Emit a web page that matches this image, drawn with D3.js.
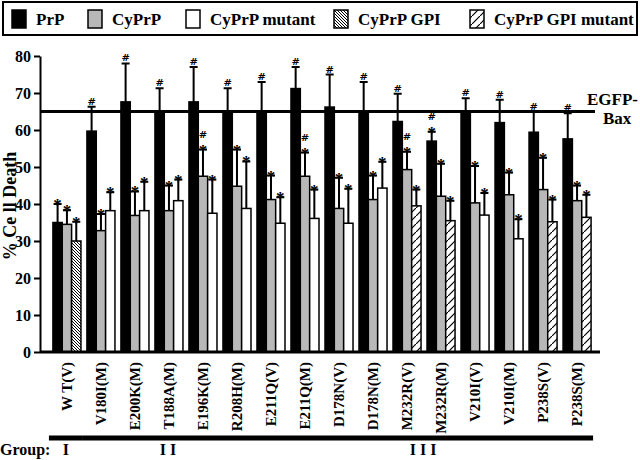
<!DOCTYPE html>
<html>
<head>
<meta charset="utf-8">
<script src="https://cdn.jsdelivr.net/npm/d3@7"></script>
<style>
  body { margin: 0; background: #fff; }
  text { font-family: "Liberation Serif", "Times New Roman", serif; font-weight: bold; fill: #000; }
</style>
</head>
<body>
<script>
// values
var categories = ["W T(V)", "V180I(M)", "E200K(M)", "T188A(M)", "E196K(M)", "R208H(M)",
  "E211Q(V)", "E211Q(M)", "D178N(V)", "D178N(M)", "M232R(V)", "M232R(M)",
  "V210I(V)", "V210I(M)", "P238S(V)", "P238S(M)"];
var prp      = [35, 59.7, 67.6, 65.2, 67.6, 64.6, 64.6, 71.2, 66.2, 64.6, 62.3, 57, 64.8, 62, 59.4, 57.6];
var prpErr   = [5, 6.6, 10.4, 6.1, 9.4, 6.7, 8.4, 5.8, 8.8, 8.4, 7.5, 2.5, 3.8, 6.2, 5.6, 6.9];
var cyprp    = [34.5, 32.8, 36.9, 38.2, 47.5, 44.8, 41.2, 47.5, 38.8, 41.2, 49.3, 42.1, 40.3, 42.5, 43.9, 40.9];
var cyprpErr = [3.8, 4.5, 6.5, 6.8, 7.2, 9.9, 6.5, 6.4, 8.3, 6.5, 4.8, 8.8, 10, 6, 8.6, 4.1];
var third    = [30, 38.2, 38.2, 40.9, 37.5, 38.8, 34.8, 36.1, 34.8, 44.3, 39.5, 35.5, 37, 30.6, 35.2, 36.4];
var thirdErr = [5.2, 5, 7.8, 5.7, 9.1, 12.7, 7, 7.8, 9.3, 7.1, 4.4, 5.4, 6, 5.3, 6, 6.1];
var thirdType = ["gpi", "mut", "mut", "mut", "mut", "mut", "mut", "mut", "mut", "mut",
  "gpimut", "gpimut", "mut", "mut", "gpimut", "gpimut"];
var prpMark   = ["*", "#", "#", "#", "#", "#", "#", "#", "#", "#", "#", "#*", "#", "#", "#", "#"];
var cyprpMark = ["*", "*", "*", "*", "#*", "*", "*", "#*", "*", "*", "#*", "*", "*", "*", "*", "*"];
var thirdMark = ["*", "*", "*", "*", "*", "*", "*", "*", "*", "*", "*", "*", "*", "*", "*", "*"];
var yTicks = [0, 10, 20, 30, 40, 50, 60, 70, 80];
var refValue = 65;
var groups = [
  { name: "I", from: "W T(V)", to: "W T(V)" },
  { name: "I I", from: "V180I(M)", to: "R208H(M)" },
  { name: "I I I", from: "E211Q(V)", to: "P238S(M)" }
];
var legendItems = [
  { key: "prp", label: "PrP" },
  { key: "cy", label: "CyPrP" },
  { key: "mut", label: "CyPrP mutant" },
  { key: "gpi", label: "CyPrP GPI" },
  { key: "gpimut", label: "CyPrP GPI mutant" }
];

var width = 640, height = 460;
var svg = d3.select("body").append("svg")
    .attr("width", width)
    .attr("height", height);

var defs = svg.append("defs");
defs.append("pattern")
    .attr("id", "gpi")
    .attr("patternUnits", "userSpaceOnUse")
    .attr("width", 3).attr("height", 3)
  .call(function(p) {
    p.append("rect").attr("width", 3).attr("height", 3).attr("fill", "#fff");
    p.append("path").attr("d", "M-1,-1L4,4M-1,2L1,4M2,-1L4,1")
      .attr("stroke", "#000").attr("stroke-width", 1);
  });
defs.append("pattern")
    .attr("id", "gpimut")
    .attr("patternUnits", "userSpaceOnUse")
    .attr("width", 8).attr("height", 8)
  .call(function(p) {
    p.append("rect").attr("width", 8).attr("height", 8).attr("fill", "#fff");
    p.append("path").attr("d", "M-1,9L9,-1")
      .attr("stroke", "#000").attr("stroke-width", 1.2);
  });

function fillFor(key) {
  if (key == "prp") return "#000";
  if (key == "cy") return "#b8b8b8";
  if (key == "mut") return "#fff";
  return "url(#" + key + ")";
}

var y = d3.scaleLinear().domain([0, 80]).range([352, 56]);
var x = d3.scaleBand().domain(categories).range([40, 604])
    .paddingInner(0.176).paddingOuter(0.38);
var sub = d3.scaleBand().domain([0, 1, 2]).range([0, x.bandwidth()]);

// legend
var leg = svg.append("g");
leg.append("rect")
    .attr("x", 3).attr("y", 2).attr("width", 634).attr("height", 33)
    .attr("fill", "none").attr("stroke", "#000").attr("stroke-width", 2);
var legX = [12, 88, 186, 334, 470];
legendItems.forEach(function(d, i) {
  leg.append("rect")
      .attr("x", legX[i]).attr("y", 10).attr("width", 14).attr("height", 18)
      .attr("fill", fillFor(d.key)).attr("stroke", "#000").attr("stroke-width", 1.5);
  leg.append("text")
      .attr("x", legX[i] + 24).attr("y", 25)
      .style("font-size", "17px")
      .text(d.label);
});

// rows: one entry per bar
var bars = [];
categories.forEach(function(c, i) {
  bars.push({ cat: c, k: 0, key: "prp", v: prp[i], e: prpErr[i], m: prpMark[i] });
  bars.push({ cat: c, k: 1, key: "cy", v: cyprp[i], e: cyprpErr[i], m: cyprpMark[i] });
  bars.push({ cat: c, k: 2, key: thirdType[i], v: third[i], e: thirdErr[i], m: thirdMark[i] });
});

var g = svg.append("g");
g.selectAll("rect.bar")
    .data(bars)
  .enter().append("rect")
    .attr("class", "bar")
    .attr("x", function(d) { return x(d.cat) + sub(d.k); })
    .attr("y", function(d) { return y(d.v); })
    .attr("width", sub.bandwidth())
    .attr("height", function(d) { return y(0) - y(d.v); })
    .attr("fill", function(d) { return fillFor(d.key); })
    .attr("stroke", "#000")
    .attr("stroke-width", 1.5);

// error bars, upward only
g.selectAll("path.err")
    .data(bars)
  .enter().append("path")
    .attr("class", "err")
    .attr("d", function(d) {
      var cx = x(d.cat) + sub(d.k) + sub.bandwidth() / 2;
      var top = y(d.v + d.e);
      return "M" + cx + "," + y(d.v) + "V" + top + "M" + (cx - 4) + "," + top + "H" + (cx + 4);
    })
    .attr("stroke", "#000")
    .attr("stroke-width", 2)
    .attr("fill", "none");

// significance marks, stacked upward from the cap
bars.forEach(function(d) {
  var cx = x(d.cat) + sub(d.k) + sub.bandwidth() / 2;
  var base = y(d.v + d.e);
  d.m.split("").reverse().forEach(function(ch) {
    if (ch == "*") {
      g.append("text").attr("x", cx).attr("y", base + 6)
        .attr("text-anchor", "middle")
        .style("font-size", "17px").text("*");
      base -= 10;
    } else {
      // U+FE0E keeps '#' in text presentation
      g.append("text").attr("x", cx).attr("y", base - 2)
        .attr("text-anchor", "middle")
        .style("font-family", "'DejaVu Serif', 'Liberation Serif', serif")
        .style("font-size", "10px").text("#\uFE0E");
      base -= 12;
    }
  });
});

// reference line
svg.append("line")
    .attr("x1", 40).attr("x2", 595)
    .attr("y1", y(refValue)).attr("y2", y(refValue))
    .attr("stroke", "#000").attr("stroke-width", 3);
svg.append("text").attr("x", 587).attr("y", y(refValue) - 7)
    .style("font-size", "17px").text("EGFP-");
svg.append("text").attr("x", 603).attr("y", y(refValue) + 12)
    .style("font-size", "17px").text("Bax");

// y axis
var yAxis = svg.append("g")
    .attr("transform", "translate(40,0)")
    .call(d3.axisLeft(y).tickValues(yTicks).tickSize(6).tickSizeOuter(0).tickPadding(3));
yAxis.select(".domain").attr("stroke-width", 2);
yAxis.selectAll(".tick line").attr("stroke-width", 2);
yAxis.selectAll(".tick text")
    .style("font-size", "16px")
    .style("font-family", "Liberation Serif")
    .style("font-weight", "bold")
    .attr("fill", "#000");

svg.append("text")
    .attr("transform", "translate(16,206)rotate(-90)")
    .attr("text-anchor", "middle")
    .style("font-size", "18px")
    .text("% Ce ll Death");

// x axis line
svg.append("line")
    .attr("x1", 40).attr("x2", 600)
    .attr("y1", y(0)).attr("y2", y(0))
    .attr("stroke", "#000").attr("stroke-width", 3);

// category labels
svg.selectAll("text.cat")
    .data(categories)
  .enter().append("text")
    .attr("class", "cat")
    .attr("text-anchor", "end")
    .attr("dy", "0.35em")
    .attr("transform", function(d) {
      return "translate(" + (x(d) + x.bandwidth() / 2) + ",362)rotate(-90)";
    })
    .style("font-size", "15px")
    .text(function(d) { return d; });

// group brackets
groups.forEach(function(gr) {
  var x0 = x(gr.from) - 4, x1 = x(gr.to) + x.bandwidth() + 2;
  svg.append("line")
      .attr("x1", x0).attr("x2", x1).attr("y1", 438).attr("y2", 438)
      .attr("stroke", "#000").attr("stroke-width", 5);
  svg.append("text")
      .attr("x", (x0 + x1) / 2).attr("y", 455)
      .attr("text-anchor", "middle")
      .style("font-size", "16px")
      .text(gr.name);
});
svg.append("text").attr("x", 0).attr("y", 455)
    .style("font-size", "16px").text("Group:");
</script>
</body>
</html>
